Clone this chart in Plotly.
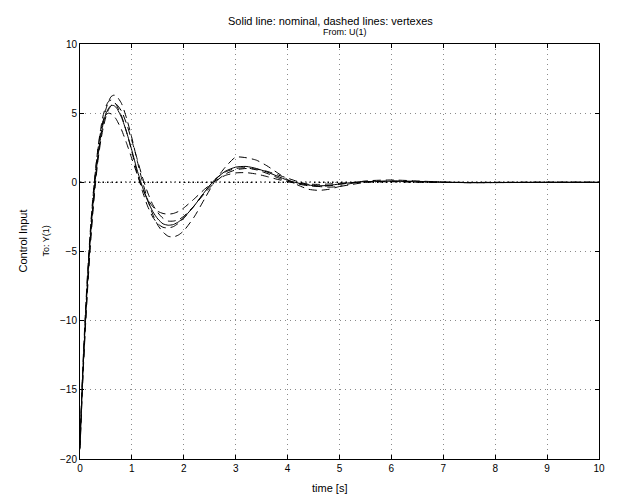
import plotly.graph_objects as go

# time samples [s]
t = [0, 0.05, 0.1, 0.15, 0.2, 0.25, 0.3, 0.35, 0.4, 0.45, 0.5, 0.55, 0.6, 0.65, 0.7,
     0.8, 0.9, 1.0, 1.1, 1.2, 1.3, 1.4, 1.5, 1.6, 1.7, 1.8, 1.9, 2.0,
     2.2, 2.4, 2.6, 2.8, 3.0, 3.2, 3.4, 3.6, 3.8, 4.0, 4.2, 4.4, 4.6, 4.8, 5.0, 5.2,
     5.5, 6.0, 6.5, 7.0, 7.5, 8.0, 9.0, 10.0]

nominal = [-19, -14.2, -10.3, -6.9, -4.0, -1.6, 0.4, 2.0, 3.3, 4.3, 4.95, 5.35, 5.55, 5.55, 5.4,
           4.7, 3.6, 2.3, 0.9, -0.3, -1.3, -2.1, -2.65, -3.0, -3.1, -3.05, -2.85, -2.55,
           -1.7, -0.7, 0.2, 0.8, 1.1, 1.15, 1.0, 0.75, 0.45, 0.15, -0.05, -0.2, -0.25, -0.22, -0.12, -0.03,
           0.05, 0.08, 0.04, 0.0, -0.02, -0.01, 0.0, 0.0]

vertex_a = [-19.3, -14.5, -10.6, -7.2, -4.2, -1.8, 0.3, 2.0, 3.4, 4.5, 5.3, 5.85, 6.2, 6.3, 6.25,
            5.7, 4.6, 3.2, 1.6, 0.1, -1.2, -2.3, -3.1, -3.6, -3.9, -3.95, -3.8, -3.5,
            -2.5, -1.2, 0.1, 1.1, 1.82, 1.78, 1.6, 1.2, 0.7, 0.2, -0.2, -0.5, -0.58, -0.5, -0.3, -0.1,
            0.1, 0.17, 0.1, 0.02, -0.03, -0.02, 0.0, 0.0]

vertex_b = [-18.8, -14.0, -10.0, -6.5, -3.6, -1.1, 0.9, 2.6, 3.9, 4.9, 5.5, 5.85, 5.95, 5.85, 5.6,
            4.8, 3.6, 2.2, 0.7, -0.6, -1.7, -2.5, -3.0, -3.25, -3.3, -3.2, -2.95, -2.6,
            -1.7, -0.7, 0.2, 0.75, 1.0, 1.05, 0.9, 0.65, 0.35, 0.08, -0.12, -0.25, -0.3, -0.25, -0.15, -0.05,
            0.04, 0.07, 0.03, 0.0, -0.01, -0.01, 0.0, 0.0]

vertex_c = [-18.6, -13.7, -9.7, -6.3, -3.4, -1.0, 0.9, 2.5, 3.7, 4.5, 4.9, 5.0, 4.95, 4.8, 4.55,
            3.8, 2.8, 1.7, 0.6, -0.4, -1.2, -1.75, -2.1, -2.25, -2.3, -2.25, -2.1, -1.85,
            -1.2, -0.5, 0.1, 0.5, 0.68, 0.7, 0.6, 0.42, 0.22, 0.05, -0.07, -0.13, -0.15, -0.12, -0.07, -0.02,
            0.03, 0.04, 0.02, 0.0, -0.01, 0.0, 0.0, 0.0]

vertex_d = [-19.2, -14.6, -10.8, -7.5, -4.6, -2.1, 0.0, 1.7, 3.0, 4.0, 4.75, 5.25, 5.55, 5.7, 5.65,
            5.15, 4.2, 3.0, 1.7, 0.4, -0.7, -1.6, -2.2, -2.6, -2.8, -2.8, -2.7, -2.45,
            -1.7, -0.8, 0.0, 0.6, 0.9, 1.0, 0.95, 0.8, 0.55, 0.3, 0.05, -0.15, -0.3, -0.35, -0.3, -0.18,
            0.0, 0.1, 0.07, 0.02, -0.02, -0.02, 0.0, 0.0]

x_ticks = [0, 1, 2, 3, 4, 5, 6, 7, 8, 9, 10]
y_ticks = [-20, -15, -10, -5, 0, 5, 10]

FONT = "Liberation Sans, Arial, Helvetica, sans-serif"

fig = go.Figure()
for v in [vertex_a, vertex_b, vertex_c, vertex_d]:
    fig.add_trace(go.Scatter(x=t, y=v, mode="lines",
                             line=dict(color="black", width=1, dash="8px,5px", shape="spline", smoothing=0.6),
                             showlegend=False, hoverinfo="skip"))
fig.add_trace(go.Scatter(x=t, y=nominal, mode="lines",
                         line=dict(color="black", width=1, shape="spline", smoothing=0.6),
                         showlegend=False, hoverinfo="skip"))

# dotted zero reference line
fig.add_shape(type="line", xref="paper", x0=0, x1=1, yref="y", y0=0, y1=0,
              line=dict(color="black", width=1.5, dash="1.5px,3px"), layer="below")

axis_common = dict(showline=True, linecolor="black", linewidth=1, mirror="ticks",
                   ticks="inside", ticklen=4, tickcolor="black",
                   showgrid=True, gridcolor="#8a8a8a", gridwidth=1, griddash="1px,4px",
                   zeroline=False, tickfont=dict(family=FONT, size=10, color="black"))

fig.update_xaxes(range=[0, 10], tickvals=x_ticks, ticktext=[str(v) for v in x_ticks], **axis_common)
fig.update_yaxes(range=[-20, 10], tickvals=y_ticks,
                 ticktext=[("\u2212" + str(-v)) if v < 0 else str(v) for v in y_ticks], **axis_common)

annotations = [
    dict(text="Solid line: nominal, dashed lines: vertexes", x=0.5, y=1, xref="paper", yref="paper",
         xanchor="center", yanchor="middle", xshift=-9, yshift=23, showarrow=False,
         font=dict(family=FONT, size=11, color="black")),
    dict(text="From: U(1)", x=0.5, y=1, xref="paper", yref="paper",
         xanchor="center", yanchor="middle", xshift=5, yshift=12, showarrow=False,
         font=dict(family=FONT, size=9, color="black")),
    dict(text="time [s]", x=0.5, y=0, xref="paper", yref="paper",
         xanchor="center", yanchor="middle", xshift=-10, yshift=-29, showarrow=False,
         font=dict(family=FONT, size=11, color="black")),
    dict(text="Control Input", x=0, y=0.5, xref="paper", yref="paper", textangle=-90,
         xanchor="center", yanchor="middle", xshift=-58, yshift=10, showarrow=False,
         font=dict(family=FONT, size=11, color="black")),
    dict(text="To: Y(1)", x=0, y=0.5, xref="paper", yref="paper", textangle=-90,
         xanchor="center", yanchor="middle", xshift=-35, yshift=10, showarrow=False,
         font=dict(family=FONT, size=9, color="black")),
]

fig.update_layout(width=617, height=502, margin=dict(l=80, r=15, t=44, b=43),
                  paper_bgcolor="white", plot_bgcolor="white",
                  annotations=annotations, showlegend=False)

fig.write_html("out.html")
